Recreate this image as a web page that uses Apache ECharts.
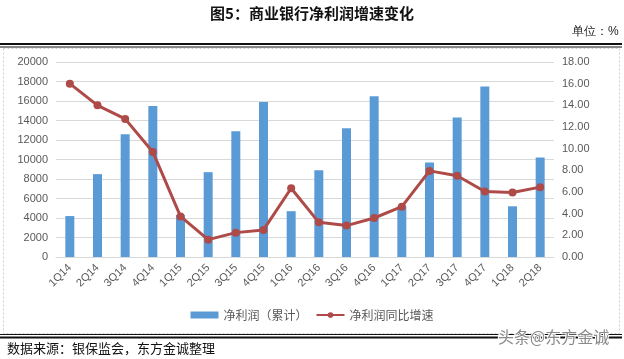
<!DOCTYPE html>
<html>
<head>
<meta charset="utf-8">
<script src="https://cdn.jsdelivr.net/npm/echarts@6/dist/echarts.min.js"></script>
<style>
html,body{margin:0;padding:0;background:#fff;}
#c{width:624px;height:359px;}
</style>
</head>
<body>
<div id="c"></div>
<script>
var categories = ['1Q14','2Q14','3Q14','4Q14','1Q15','2Q15','3Q15','4Q15','1Q16','2Q16','3Q16','4Q16','1Q17','2Q17','3Q17','4Q17','1Q18','2Q18'];
var netProfit = [4200, 8500, 12600, 15500, 4300, 8700, 12900, 15900, 4700, 8900, 13200, 16500, 5200, 9700, 14300, 17500, 5200, 10200];
var growthRate = [16.0, 14.0, 12.75, 9.7, 3.75, 1.6, 2.25, 2.5, 6.35, 3.2, 2.9, 3.6, 4.65, 7.95, 7.5, 6.05, 5.95, 6.45];
var leftTicks = {min: 0, max: 20000, interval: 2000};
var rightTicks = {min: 0, max: 18, interval: 2};

var chart = echarts.init(document.getElementById('c'));
var axisFont = {color: '#595959', fontSize: 11, fontFamily: 'Liberation Sans, Arial, sans-serif'};
chart.setOption({
  animation: false,
  backgroundColor: '#fff',
  title: {
    text: '图5：商业银行净利润增速变化',
    left: 'center',
    top: 1,
    textStyle: {fontSize: 15, fontWeight: 'bold', color: '#111', fontFamily: 'Noto Sans CJK SC'}
  },
  legend: {
    bottom: 33,
    left: 'center',
    itemWidth: 28,
    itemHeight: 7,
    itemGap: 8,
    textStyle: {color: '#595959', fontSize: 12, fontFamily: 'Noto Sans CJK SC'},
    data: [
      {name: '净利润（累计）', icon: 'rect'},
      {name: '净利润同比增速'}
    ]
  },
  grid: {left: 56, right: 70, top: 62, bottom: 102, containLabel: false},
  xAxis: {
    type: 'category',
    data: categories,
    axisLine: {lineStyle: {color: '#D9D9D9'}},
    axisTick: {show: false},
    axisLabel: Object.assign({rotate: 45, margin: 9, interval: 0}, axisFont)
  },
  yAxis: [
    {
      type: 'value',
      min: leftTicks.min, max: leftTicks.max, interval: leftTicks.interval,
      axisLine: {show: false},
      axisTick: {show: false},
      axisLabel: Object.assign({margin: 8, formatter: function(v){return String(v);}}, axisFont),
      splitLine: {lineStyle: {color: '#D9D9D9'}}
    },
    {
      type: 'value',
      min: rightTicks.min, max: rightTicks.max, interval: rightTicks.interval,
      axisLine: {show: false},
      axisTick: {show: false},
      axisLabel: Object.assign({margin: 8, formatter: function(v){return v.toFixed(2);}}, axisFont),
      splitLine: {show: false}
    }
  ],
  series: [
    {
      name: '净利润（累计）',
      type: 'bar',
      data: netProfit,
      barWidth: 9,
      itemStyle: {color: '#5B9BD5'}
    },
    {
      name: '净利润同比增速',
      type: 'line',
      yAxisIndex: 1,
      data: growthRate,
      symbol: 'circle',
      symbolSize: 8,
      lineStyle: {color: '#AE4B48', width: 3},
      itemStyle: {color: '#AE4B48'}
    }
  ],
  graphic: [
    {type: 'text', left: 572, top: 26, style: {text: '单位：%', fontSize: 12, fill: '#222', font: '12px "Noto Sans CJK SC"'}},
    {type: 'rect', shape: {x: 0, y: 43, width: 622, height: 2}, style: {fill: '#111'}},
    {type: 'rect', shape: {x: 0, y: 46.5, width: 622, height: 1}, style: {fill: '#111'}},
    {type: 'rect', z: -10, shape: {x: 3.5, y: 48.5, width: 616, height: 285}, style: {fill: 'none', stroke: '#CFCFCF', lineWidth: 1, lineDash: [2, 2]}},
    {type: 'rect', shape: {x: 0, y: 334, width: 622, height: 1}, style: {fill: '#111'}},
    {type: 'rect', shape: {x: 0, y: 336.5, width: 622, height: 2}, style: {fill: '#111'}},
    {type: 'text', left: 7, top: 342, style: {text: '数据来源：银保监会，东方金诚整理', font: '13px "Noto Sans CJK SC"', fill: '#111'}},
    {type: 'text', left: 497, top: 328, style: {text: '头条@东方金诚', font: '16px "Noto Sans CJK SC"', fill: '#8a8a8a', stroke: '#fff', lineWidth: 2}}
  ]
});
</script>
</body>
</html>
